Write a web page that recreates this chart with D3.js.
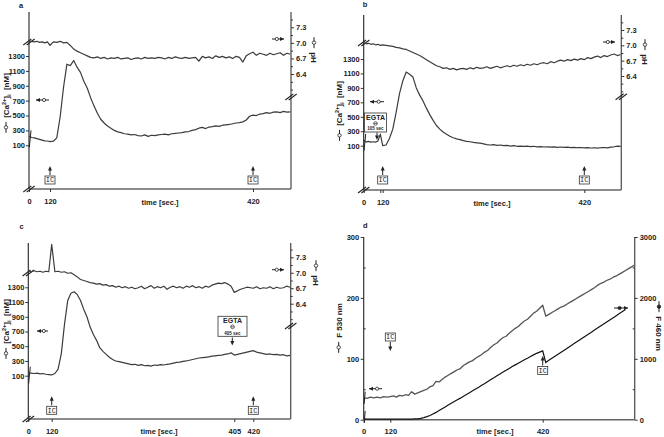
<!DOCTYPE html>
<html>
<head>
<meta charset="utf-8">
<script src="https://cdn.jsdelivr.net/npm/d3@7"></script>
<style>
  body { margin: 0; background: #fff; }
  text { font-family: "Liberation Sans", Arial, sans-serif; fill: #222; }
</style>
</head>
<body>
<svg id="fig" width="664" height="437"></svg>
<script>
// ---- time grids (sec) ----
const tEarly = [0, 15, 30, 45, 60, 75, 90, 105];
const tABC = tEarly.concat(d3.range(120, 480, 5));
const tD = tEarly.concat(d3.range(120, 601, 6));

const caTicks = [100, 300, 500, 700, 900, 1100, 1300];
const phTicks = [6.4, 6.7, 7.0, 7.3];
const phMinor = [6.1, 6.25, 6.55, 6.85, 7.15, 7.45];
const f530Ticks = [0, 100, 200, 300];
const f460Ticks = [0, 1000, 2000, 3000];

// panel a
const caA = [220,205,200,190,180,170,160,158,
  150,155,200,480,880,1190,1170,1240,1150,1080,
  960,870,740,630,530,450,400,360,330,300,
  280,270,255,250,240,245,230,225,240,220,
  235,230,240,245,250,240,255,260,265,270,
  280,285,300,310,330,340,325,345,350,360,
  355,370,375,380,390,400,405,415,440,490,
  505,500,520,525,540,530,545,550,540,555,
  545,550];
const phA = [7.04,7.03,7.02,7.03,7.01,7.02,7.00,7.02,
  6.95,7.02,7.01,7.03,7.00,7.01,6.95,6.88,6.84,6.81,
  6.78,6.75,6.72,6.71,6.73,6.70,6.72,6.69,6.71,6.70,
  6.72,6.69,6.70,6.71,6.68,6.70,6.71,6.69,6.72,6.70,
  6.71,6.70,6.72,6.71,6.69,6.72,6.70,6.73,6.71,6.70,
  6.72,6.70,6.71,6.72,6.65,6.74,6.71,6.73,6.70,6.75,
  6.72,6.74,6.71,6.73,6.70,6.74,6.72,6.63,6.75,6.79,
  6.82,6.76,6.80,6.78,6.76,6.80,6.77,6.79,6.81,6.76,
  6.80,6.78];

// panel b
const caB = [180,150,160,150,155,150,165,260,
  100,110,200,330,560,820,1000,1120,1090,1050,
  900,800,720,620,530,450,380,330,290,260,
  230,210,195,185,170,160,155,145,140,135,
  125,115,110,115,105,110,100,105,95,100,
  92,95,90,95,88,92,85,88,82,85,
  80,84,78,82,76,80,74,78,72,75,
  70,74,68,72,66,72,75,70,80,85,
  95,90];
const phB = [7.05,7.03,7.04,7.02,7.03,7.01,7.02,7.00,
  7.01,7.00,6.99,6.98,6.96,6.95,6.93,6.92,6.89,6.86,
  6.83,6.80,6.76,6.72,6.68,6.64,6.60,6.58,6.55,6.56,
  6.53,6.55,6.52,6.54,6.55,6.53,6.56,6.54,6.57,6.55,
  6.56,6.58,6.55,6.57,6.59,6.56,6.58,6.60,6.58,6.61,
  6.59,6.62,6.60,6.63,6.61,6.64,6.62,6.65,6.66,6.64,
  6.68,6.66,6.69,6.71,6.69,6.72,6.70,6.73,6.71,6.74,
  6.72,6.76,6.74,6.77,6.79,6.76,6.80,6.78,6.81,6.83,
  6.80,6.82];

// panel c
const caC = [140,135,130,135,125,130,120,115,
  110,130,190,400,800,1120,1220,1240,1200,1120,
  1000,900,760,660,580,480,430,390,350,320,
  300,290,280,270,260,250,255,240,250,235,
  240,230,245,240,250,245,255,260,270,280,
  285,295,300,310,320,330,340,345,350,355,
  365,370,375,380,390,395,410,380,400,420,
  440,420,410,400,390,395,385,390,380,385,
  370,375];
const phC = [7.03,7.02,7.04,7.02,7.03,7.01,7.03,7.02,
  7.55,7.02,7.03,7.01,7.02,6.99,7.00,6.96,6.92,6.87,
  6.85,6.83,6.81,6.80,6.78,6.79,6.76,6.77,6.74,6.75,
  6.72,6.74,6.71,6.73,6.70,6.72,6.69,6.71,6.74,6.69,
  6.72,6.75,6.70,6.73,6.71,6.74,6.68,6.72,6.74,6.71,
  6.73,6.70,6.74,6.72,6.75,6.71,6.73,6.70,6.74,6.72,
  6.76,6.78,6.80,6.79,6.81,6.78,6.74,6.62,6.68,6.72,
  6.70,6.73,6.69,6.71,6.70,6.73,6.69,6.72,6.70,6.71,
  6.74,6.72];

// panel d
const f530 = [36,35,37,36,37,36,38,37,
  38,39,37,40,39,41,40,46,42,44,
  46,48,50,54,56,63,62,66,70,73,
  76,79,82,84,89,92,95,97,101,104,
  107,111,114,119,123,126,131,135,137,142,
  146,150,153,158,162,165,170,175,178,183,
  188,170,173,176,179,182,185,187,190,193,
  196,199,202,205,208,211,214,217,221,224,
  226,229,231,234,236,239,242,245,248,251,
  254];
const f460 = [12,10,11,9,10,11,10,9,
  10,9,11,10,10,9,11,10,12,15,
  22,35,50,70,95,120,150,180,210,242,
  270,298,326,354,384,414,444,474,504,534,
  566,596,628,660,690,722,752,782,812,842,
  872,900,928,956,984,1010,1038,1064,1090,1110,
  1130,940,975,1008,1042,1075,1108,1142,1175,1208,
  1242,1275,1308,1342,1375,1408,1442,1475,1508,1542,
  1575,1608,1642,1675,1708,1742,1775,1808,null,null,
  null];

const svg = d3.select("#fig");
const ink = "#222";

function styleAxis(ax) {
  ax.selectAll("text").attr("font-size", 7.5).attr("font-weight", "bold");
  ax.selectAll("line").attr("stroke", "#333");
}

// little "//" axis break
function brk(g, x, y) {
  [-1.7, 1.7].forEach(o => {
    g.append("line")
      .attr("x1", x - 4 + o).attr("y1", y + 3)
      .attr("x2", x + 4 + o).attr("y2", y - 3)
      .attr("stroke", ink).attr("stroke-width", 1.1);
  });
}

function arrowLine(g, x, y1, y2) {
  const s = y2 > y1 ? 1 : -1;
  g.append("line").attr("x1", x).attr("x2", x).attr("y1", y1).attr("y2", y2 - 2 * s)
    .attr("stroke", ink).attr("stroke-width", 1);
  g.append("path").attr("d", `M${x},${y2}L${x - 2},${y2 - 4.5 * s}L${x + 2},${y2 - 4.5 * s}Z`)
    .attr("fill", ink);
}

function icMark(g, cx, boxTop, a1, a2) {
  arrowLine(g, cx, a1, a2);
  g.append("rect").attr("x", cx - 5).attr("y", boxTop).attr("width", 10).attr("height", 8)
    .attr("fill", "#fff").attr("stroke", "#333").attr("stroke-width", 0.8);
  g.append("text").attr("x", cx).attr("y", boxTop + 6.4).attr("text-anchor", "middle")
    .attr("font-size", 7).style("font-family", "'Liberation Mono', monospace").text("IC");
}

function legArrow(g, x1, x2, y, headLeft, dotFill) {
  g.append("line").attr("x1", x1).attr("x2", x2).attr("y1", y).attr("y2", y)
    .attr("stroke", ink).attr("stroke-width", 1);
  const hx = headLeft ? x1 : x2, s = headLeft ? 1 : -1;
  g.append("path").attr("d", `M${hx},${y}L${hx + 4 * s},${y - 2}L${hx + 4 * s},${y + 2}Z`).attr("fill", ink);
  const cx = headLeft ? x1 + (x2 - x1) * 0.62 : x1 + (x2 - x1) * 0.4;
  g.append("circle").attr("cx", cx).attr("cy", y).attr("r", 1.6)
    .attr("fill", dotFill).attr("stroke", ink).attr("stroke-width", 0.8);
}

function egta(g, bx, by, bw, bh, sec, ax, ay1, ay2) {
  g.append("rect").attr("x", bx).attr("y", by).attr("width", bw).attr("height", bh)
    .attr("fill", "#fff").attr("stroke", "#333").attr("stroke-width", 0.8);
  const cx = bx + bw / 2;
  g.append("text").attr("x", cx).attr("y", by + 7).attr("text-anchor", "middle")
    .attr("font-size", 7).attr("font-weight", "bold").text("EGTA");
  g.append("circle").attr("cx", cx).attr("cy", by + 10.5).attr("r", 1.8)
    .attr("fill", "none").attr("stroke", ink).attr("stroke-width", 0.7);
  g.append("line").attr("x1", cx - 1.8).attr("x2", cx + 1.8).attr("y1", by + 10.5).attr("y2", by + 10.5)
    .attr("stroke", ink).attr("stroke-width", 0.6);
  g.append("text").attr("x", cx).attr("y", by + bh - 1.8).attr("text-anchor", "middle")
    .attr("font-size", 4.5).attr("font-weight", "bold").text(sec);
  arrowLine(g, ax, ay1, ay2);
}

// rotated axis title: a little "—o—" key followed by the text
function vLabel(g, cx, cy, rot, parts, dotFill) {
  const r = g.append("g").attr("transform", `translate(${cx},${cy}) rotate(${rot})`);
  const t = r.append("text").attr("dy", "0.35em")
    .attr("font-size", 8).attr("font-weight", "bold").style("white-space", "pre");
  parts.forEach(p => {
    const s = t.append("tspan").text(p.t);
    if (p.dy) s.attr("dy", p.dy);
    if (p.fs) s.attr("font-size", p.fs);
  });
  const w = t.node().getComputedTextLength();
  const total = 15 + w, x0 = -total / 2;
  t.attr("x", x0 + 15);
  r.append("line").attr("x1", x0).attr("x2", x0 + 11).attr("y1", 0).attr("y2", 0)
    .attr("stroke", ink).attr("stroke-width", 1);
  r.append("circle").attr("cx", x0 + 5.5).attr("cy", 0).attr("r", 1.7)
    .attr("fill", dotFill).attr("stroke", ink).attr("stroke-width", 0.8);
}

const caLabel = [
  { t: "[Ca" }, { t: "2+", dy: -3, fs: 5.5 }, { t: "]", dy: 3 },
  { t: "i", dy: 2, fs: 5.5 }, { t: "  [nM]", dy: -2 }
];

function drawABC(p) {
  const g = svg.append("g");
  const x = d3.scaleLinear().domain(p.xd).range(p.xr);
  const yCa = d3.scaleLinear().domain([100, 1300]).range(p.ca);
  const yPh = d3.scaleLinear().domain([6.4, 7.3]).range(p.ph);

  g.append("line").attr("x1", p.L).attr("x2", p.L).attr("y1", p.T).attr("y2", p.B)
    .attr("stroke", "#222").attr("stroke-width", 1.1);
  g.append("line").attr("x1", p.R).attr("x2", p.R).attr("y1", p.T).attr("y2", p.B)
    .attr("stroke", "#555").attr("stroke-width", 1.3);
  g.append("line").attr("x1", p.L).attr("x2", p.R).attr("y1", p.B).attr("y2", p.B)
    .attr("stroke", "#666").attr("stroke-width", 1.6);

  const al = g.append("g").attr("transform", `translate(${p.L},0)`)
    .call(d3.axisLeft(yCa).tickValues(caTicks).tickSize(3).tickPadding(1).tickFormat(d3.format("d")));
  al.select(".domain").remove(); styleAxis(al);

  const ar = g.append("g").attr("transform", `translate(${p.R},0)`)
    .call(d3.axisRight(yPh).tickValues(phTicks).tickSize(3).tickPadding(2).tickFormat(d3.format(".1f")));
  ar.select(".domain").remove(); styleAxis(ar);
  const am = g.append("g").attr("transform", `translate(${p.R},0)`)
    .call(d3.axisRight(yPh).tickValues(phMinor).tickSize(2).tickFormat(""));
  am.select(".domain").remove(); styleAxis(am);

  const ab = g.append("g").attr("transform", `translate(0,${p.B})`)
    .call(d3.axisBottom(x).tickValues(p.xt).tickSize(3).tickPadding(p.pad)
      .tickFormat(d => p.xl.includes(d) ? d : ""));
  ab.select(".domain").remove(); styleAxis(ab);

  g.append("text").attr("x", p.timeX).attr("y", p.B + p.pad + 8.5).attr("text-anchor", "middle")
    .attr("font-size", 7.5).attr("font-weight", "bold").text("time [sec.]");

  brk(g, p.L, p.brL); brk(g, p.L, p.B); brk(g, p.R, p.brR);

  const line = (ys, vals) => d3.line().x((d, i) => x(tABC[i])).y(d => ys(d))(vals);
  g.append("path").attr("d", line(yPh, p.ph_v)).attr("fill", "none")
    .attr("stroke", "#3c3c3c").attr("stroke-width", 1.2).attr("stroke-linejoin", "round");
  g.append("path").attr("d", line(yCa, p.ca_v)).attr("fill", "none")
    .attr("stroke", "#3c3c3c").attr("stroke-width", 1.2).attr("stroke-linejoin", "round");
  // break mark at trace start
  const y0 = yCa(p.ca_v[0]);
  g.append("line").attr("x1", x(0) + 0.3).attr("y1", y0 + 11).attr("x2", x(0) + 2).attr("y2", y0 - 6)
    .attr("stroke", ink).attr("stroke-width", 1);

  p.ic.forEach(t => icMark(g, x(t), p.icBox, p.icBox - 1, p.icBox - 10));
  legArrow(g, p.legL[0], p.legL[1], p.legL[2], true, "#fff");
  legArrow(g, p.legR[0], p.legR[1], p.legR[2], false, "#fff");

  vLabel(g, p.labL[0], p.labL[1], -90, caLabel, "#fff");
  vLabel(g, p.labR[0], p.labR[1], 90, [{ t: "pH" }], "#fff");
  g.append("text").attr("x", p.letter[0]).attr("y", p.letter[1]).attr("text-anchor", "middle")
    .attr("font-size", 7.5).attr("font-weight", "bold").text(p.name);
  return { g, x, yCa };
}

drawABC({
  name: "a", letter: [21, 8],
  L: 29, R: 291, T: 12, B: 189, ca: [145.3, 56], ph: [74, 27.3],
  xd: [0, 120, 420, 476], xr: [29, 50, 253, 291], xt: [0, 120, 420], xl: [0, 120, 420], pad: 7,
  timeX: 160, brL: 42, brR: 97, ca_v: caA, ph_v: phA, ic: [120, 420], icBox: 176,
  legL: [36, 49, 100], legR: [272, 284, 39], labL: [6, 103], labR: [314, 50]
});

const pb = drawABC({
  name: "b", letter: [365, 7],
  L: 363.7, R: 621.3, T: 15, B: 190, ca: [145.7, 59], ph: [76, 30],
  xd: [0, 120, 420, 476], xr: [363.7, 382.7, 584.3, 621.3], xt: [0, 105, 120, 420], xl: [0, 120, 420], pad: 7,
  timeX: 492, brL: 43, brR: 96.7, ca_v: caB, ph_v: phB, ic: [120, 420], icBox: 176,
  legL: [370, 384, 101.7], legR: [603, 615, 42], labL: [339.5, 111], labR: [645, 52]
});
egta(pb.g, 364.5, 113, 22, 19, "105 sec", 377, 132.5, 140);

const pc = drawABC({
  name: "c", letter: [21.7, 229],
  L: 28.3, R: 290.7, T: 243, B: 419, ca: [375.7, 287.3], ph: [303.7, 257.3],
  xd: [0, 120, 405, 420, 476], xr: [28.3, 51.7, 234.3, 253.3, 290.7], xt: [0, 120, 405, 420], xl: [0, 120, 405, 420], pad: 6.5,
  timeX: 159, brL: 273, brR: 326, ca_v: caC, ph_v: phC, ic: [120, 420], icBox: 406.3,
  legL: [37, 48, 331], legR: [272, 284, 269.7], labL: [6, 329], labR: [316, 273]
});
egta(pc.g, 218, 316.3, 29, 20, "405 sec", 232.3, 337.5, 345.5);

// ---- panel d ----
{
  const L = 363.7, R = 634.7, T = 237, B = 419.7;
  const g = svg.append("g");
  const x = d3.scaleLinear().domain([0, 120, 420, 600]).range([363.7, 390.3, 542.7, 634.7]);
  const y5 = d3.scaleLinear().domain([0, 300]).range([B, T]);
  const y4 = d3.scaleLinear().domain([0, 3000]).range([B, T]);

  g.append("line").attr("x1", L).attr("x2", L).attr("y1", T).attr("y2", B).attr("stroke", "#333").attr("stroke-width", 1.2);
  g.append("line").attr("x1", R).attr("x2", R).attr("y1", T).attr("y2", B).attr("stroke", "#555").attr("stroke-width", 1.3);
  g.append("line").attr("x1", L).attr("x2", R).attr("y1", B).attr("y2", B).attr("stroke", "#666").attr("stroke-width", 1.6);

  const al = g.append("g").attr("transform", `translate(${L},0)`)
    .call(d3.axisLeft(y5).tickValues(f530Ticks).tickSize(3).tickPadding(1.5).tickFormat(d3.format("d")));
  al.select(".domain").remove(); styleAxis(al);
  const alm = g.append("g").attr("transform", `translate(${L},0)`)
    .call(d3.axisLeft(y5).tickValues([50, 150, 250]).tickSize(-2).tickFormat(""));
  alm.select(".domain").remove(); styleAxis(alm);
  const ar = g.append("g").attr("transform", `translate(${R},0)`)
    .call(d3.axisRight(y4).tickValues(f460Ticks).tickSize(3).tickPadding(2).tickFormat(d3.format("d")));
  ar.select(".domain").remove(); styleAxis(ar);
  const arm = g.append("g").attr("transform", `translate(${R},0)`)
    .call(d3.axisRight(y4).tickValues([500, 1500, 2500]).tickSize(-2).tickFormat(""));
  arm.select(".domain").remove(); styleAxis(arm);
  const ab = g.append("g").attr("transform", `translate(0,${B})`)
    .call(d3.axisBottom(x).tickValues([0, 120, 420]).tickSize(3).tickPadding(6).tickFormat(d3.format("d")));
  ab.select(".domain").remove(); styleAxis(ab);

  g.append("text").attr("x", 495).attr("y", B + 14.5).attr("text-anchor", "middle")
    .attr("font-size", 7.5).attr("font-weight", "bold").text("time [sec.]");

  const l5 = d3.line().x((d, i) => x(tD[i])).y(d => y5(d));
  const l4 = d3.line().defined(d => d != null).x((d, i) => x(tD[i])).y(d => y4(d));
  g.append("path").attr("d", l4(f460)).attr("fill", "none").attr("stroke", "#111").attr("stroke-width", 1.2);
  g.append("path").attr("d", l5(f530)).attr("fill", "none").attr("stroke", "#555").attr("stroke-width", 1.3)
    .attr("stroke-linejoin", "round");
  [y5(f530[0]), y4(f460[0]) - 2].forEach(yy => {
    g.append("line").attr("x1", x(0) + 0.5).attr("y1", yy + 6).attr("x2", x(0) + 1.5).attr("y2", yy - 6)
      .attr("stroke", ink).attr("stroke-width", 1);
  });

  icMark(g, x(120), 333, 342, 351);
  icMark(g, x(420), 366.5, 365.5, 356);
  legArrow(g, 369, 382, 388.7, true, "#fff");
  legArrow(g, 614, 628, 308, false, "#222");

  vLabel(g, 338.7, 328, -90, [{ t: "F 530 nm" }], "#fff");
  vLabel(g, 659, 326, 90, [{ t: "F 460 nm" }], "#222");
  g.append("text").attr("x", 365.3).attr("y", 227.5).attr("text-anchor", "middle")
    .attr("font-size", 7.5).attr("font-weight", "bold").text("d");
}
</script>
</body>
</html>
